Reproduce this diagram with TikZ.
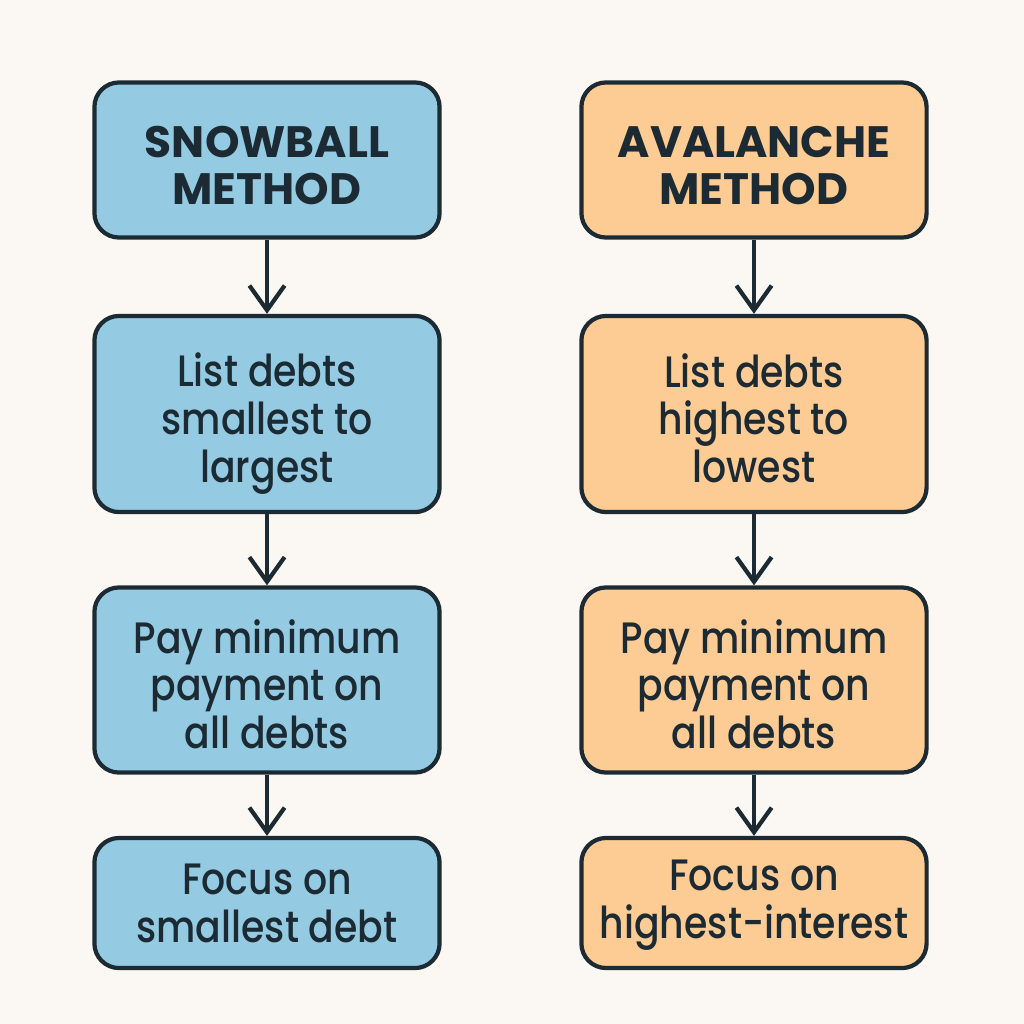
\documentclass[tikz,border=0pt]{standalone}
\usepackage{fontspec}
\setmainfont{Poppins}
\newfontfamily\bodyfont[FakeStretch=0.86]{Poppins Medium}
\usetikzlibrary{arrows.meta}
\definecolor{bgcol}{HTML}{FBF7F2}
\definecolor{snowcol}{HTML}{95CAE3}
\definecolor{avalcol}{HTML}{FDCB94}
\definecolor{inkcol}{HTML}{1C2B33}
\newcommand\lift[1][12pt]{\rule{0pt}{#1}}

\begin{document}
\begin{tikzpicture}[
	x=0.01cm, y=-0.01cm,
	stepbox/.style={
		draw=inkcol, line width=1.2pt, rounded corners=7pt,
		minimum width=3.45cm, align=center,
		text=inkcol, font=\bodyfont\fontsize{12.5}{13.6}\selectfont
	},
	snow/.style={stepbox, fill=snowcol},
	aval/.style={stepbox, fill=avalcol},
	titlefont/.style={font=\fontsize{12.5}{13.6}\selectfont\bfseries},
	flow/.style={
		draw=inkcol, line width=1.2pt,
		-{Straight Barb[length=7pt, width=10pt, line width=1.2pt]}
	}
]
\fill[bgcol] (0,0) rectangle (1024,1024);
\useasboundingbox (0,0) rectangle (1024,1024);

% snowball column
\node[snow, titlefont, minimum height=1.55cm] (S1) at (267,160) {\lift SNOWBALL\\METHOD};
\node[snow, minimum height=1.96cm] (S2) at (267,414) {\lift[15pt]List debts\\smallest to\\largest};
\node[snow, minimum height=1.85cm] (S3) at (267,680) {\lift Pay minimum\\payment on\\all debts};
\node[snow, minimum height=1.30cm] (S4) at (267,903) {Focus on\\smallest debt};

% avalanche column
\node[aval, titlefont, minimum height=1.55cm] (A1) at (754,160) {\lift AVALANCHE\\METHOD};
\node[aval, minimum height=1.96cm] (A2) at (754,414) {\lift List debts\\highest to\\lowest};
\node[aval, minimum height=1.85cm] (A3) at (754,680) {\lift Pay minimum\\payment on\\all debts};
\node[aval, minimum height=1.30cm] (A4) at (754,903) {\lift[10pt]Focus on\\highest-interest};

\foreach \c in {S,A} {
	\draw[flow] (\c1.south)--(\c2.north);
	\draw[flow] (\c2.south)--(\c3.north);
	\draw[flow] (\c3.south)--(\c4.north);
}
\end{tikzpicture}
\end{document}
